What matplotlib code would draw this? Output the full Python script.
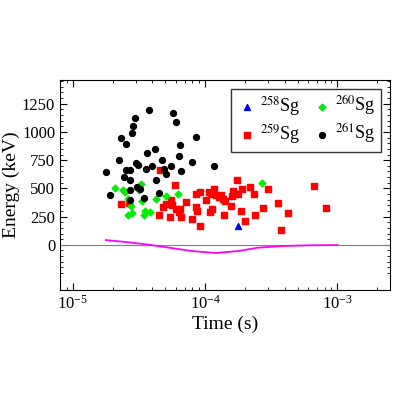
import numpy as np
import matplotlib.pyplot as plt

plt.rcParams['font.family'] = ['Liberation Serif', 'DejaVu Serif']
plt.rcParams['mathtext.fontset'] = 'stix'

# log10(time/s), energy keV
sg261_lt = [-4.746, -4.72, -4.653, -4.633, -4.615, -4.595, -4.595, -4.565, -4.565, -4.55, -4.545, -4.532,
            -4.565, -4.565, -4.52, -4.507, -4.515, -4.494, -4.462, -4.449, -4.424, -4.436, -4.398, -4.376,
            -4.368, -4.349, -4.323, -4.313, -4.298, -4.26, -4.243, -4.223, -4.2, -4.192, -4.185, -4.1, -4.072, -3.934]
sg261_e = [646, 437, 750, 944, 601, 890, 661, 661, 571, 988, 1056, 1122,
           482, 393, 726, 705, 512, 497, 417, 676, 1190, 815, 696, 848,
           578, 462, 750, 676, 631, 699, 1172, 1092, 786, 884, 655, 732, 955, 699]
sg260_lt = [-4.678, -4.62, -4.602, -4.487, -4.5, -4.583, -4.562, -4.583, -4.55, -4.474, -4.451, -4.462,
            -4.419, -4.374, -4.293, -4.205, -3.571]
sg260_e = [503, 482, 467, 542, 488, 408, 348, 265, 283, 384, 304, 268, 288, 402, 431, 446, 547]
sg258_lt = [-3.749]
sg258_e = [170]
sg259_lt = [-4.638, -4.577, -4.338, -4.351, -4.318, -4.298, -4.268, -4.26, -4.248, -4.225, -4.223, -4.2,
            -4.187, -4.183, -4.142, -4.097, -4.072, -4.067, -4.062, -4.042, -4.042, -3.991, -3.974, -3.966,
            -3.953, -3.946, -3.936, -3.916, -3.896, -3.883, -3.866, -3.86, -3.847, -3.802, -3.795, -3.79,
            -3.772, -3.762, -3.752, -3.727, -3.719, -3.702, -3.657, -3.634, -3.619, -3.564, -3.526, -3.451,
            -3.425, -3.375, -3.174, -3.085]
sg259_e = [360, 372, 661, 268, 333, 363, 244, 393, 357, 527, 319, 288,
           319, 244, 378, 229, 339, 453, 304, 163, 467, 393, 467, 288,
           453, 319, 491, 438, 422, 438, 408, 265, 387, 348, 429, 476,
           453, 571, 446, 304, 497, 208, 512, 453, 265, 328, 491, 369,
           131, 283, 518, 324]
curve_lt = [-4.75, -4.6, -4.45, -4.3, -4.1, -3.92, -3.75, -3.6, -3.4, -3.2, -3.0]
curve_e = [42, 25, 5, -20, -55, -72, -55, -25, -10, -4, -2]

fig = plt.figure(figsize=(4, 4), dpi=100)
ax = fig.add_axes([0.15, 0.275, 0.825, 0.525])
ax.axhline(0, color='gray', lw=0.8)
ax.plot(10**np.array(curve_lt), curve_e, color='magenta', lw=1.3)
ax.scatter(10**np.array(sg258_lt), sg258_e, marker='^', color='blue', s=18, label=r'$^{258}$Sg', zorder=3)
ax.scatter(10**np.array(sg259_lt), sg259_e, marker='s', color='red', s=16, label=r'$^{259}$Sg', zorder=3)
ax.scatter(10**np.array(sg260_lt), sg260_e, marker='D', color='#00ee00', s=12, label=r'$^{260}$Sg', zorder=3)
ax.scatter(10**np.array(sg261_lt), sg261_e, marker='o', color='black', s=18, label=r'$^{261}$Sg', zorder=3)
ax.set_xscale('log')
ax.set_xlim(8e-6, 2.5e-3)
ax.set_ylim(-400, 1460)
ax.set_yticks([0, 250, 500, 750, 1000, 1250])
ax.set_yticks(np.arange(-250, 1460, 50), minor=True)
ax.tick_params(which='both', direction='in', top=True, right=True, labelsize=12)
ax.tick_params(which='major', length=5)
ax.tick_params(which='minor', length=2.5)
ax.set_xlabel('Time (s)', fontsize=14, labelpad=2)
ax.set_ylabel('Energy (keV)', fontsize=14, labelpad=1)
ax.legend(loc='upper right', ncol=2, fontsize=13, fancybox=False, edgecolor='black',
          handletextpad=0.1, columnspacing=0.6, borderpad=0.3, labelspacing=0.2, handlelength=1.2)
fig.savefig('out.png')
